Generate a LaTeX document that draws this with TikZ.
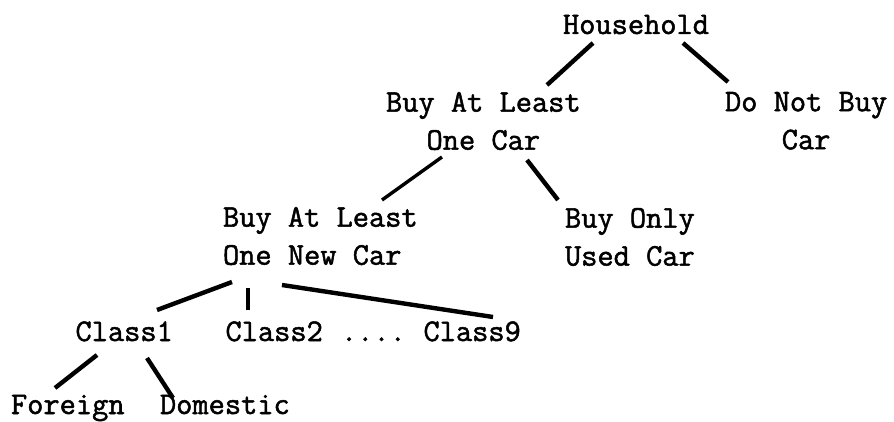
\documentclass[tikz,border=0pt]{standalone}
\usepackage{fontspec}
\newfontfamily\labelfont{Latin Modern Mono}[FakeBold=1.6]
\begin{document}
\begin{tikzpicture}[x=1pt,y=-1pt,
  lbl/.style={inner sep=0pt,outer sep=0pt,font=\fontsize{31.5}{38}\selectfont\labelfont},
  edge/.style={line width=4.4pt}]
\useasboundingbox (0,0) rectangle (894,422);

% labels
\node[lbl,anchor=base west] (hh) at (563,34) {Household};
\node[lbl,anchor=north west,align=center] (bal) at (386,92) {Buy At Least\\One Car};
\node[lbl,anchor=north west,align=center] (dnb) at (725,92) {Do Not Buy\\Car};
\node[lbl,anchor=north west,align=left] (nc) at (223,207) {Buy At Least\\One New Car};
\node[lbl,anchor=north west,align=left] (bou) at (565,208) {Buy Only\\Used Car};
\node[lbl,anchor=base west] (c1) at (75.5,341) {Class1};
\node[lbl,anchor=base west] (c2) at (225.5,341) {Class2};
\node[lbl,anchor=base west] (dots) at (341,341) {....};
\node[lbl,anchor=base west] (c9) at (423.5,341) {Class9};
\node[lbl,anchor=base west] (fo) at (11,414) {Foreign};
\node[lbl,anchor=base west] (do) at (160,414) {Domestic};

% branches
\draw[edge] ([shift={(30,9)}]hh.base west) -- ([shift={(161,-7)}]bal.north west);
\draw[edge] ([shift={(120,9)}]hh.base west) -- ([shift={(3,-10)}]dnb.north west);
\draw[edge,line width=3.4pt] ([shift={(56,65)}]bal.north west) -- ([shift={(159,-7)}]nc.north west);
\draw[edge] ([shift={(141,68)}]bal.north west) -- ([shift={(-7,-8)}]bou.north west);
\draw[edge] ([shift={(9,75)}]nc.north west) -- ([shift={(81.5,-31)}]c1.base west);
\draw[edge] ([shift={(25,81)}]nc.north west) -- ([shift={(22.5,-31)}]c2.base west);
\draw[edge] ([shift={(59,78)}]nc.north west) -- ([shift={(69.5,-24)}]c9.base west);
\draw[edge] ([shift={(21.5,14)}]c1.base west) -- ([shift={(44,-26)}]fo.base west);
\draw[edge] ([shift={(71.5,17)}]c1.base west) -- ([shift={(13,-16)}]do.base west);
\end{tikzpicture}
\end{document}
